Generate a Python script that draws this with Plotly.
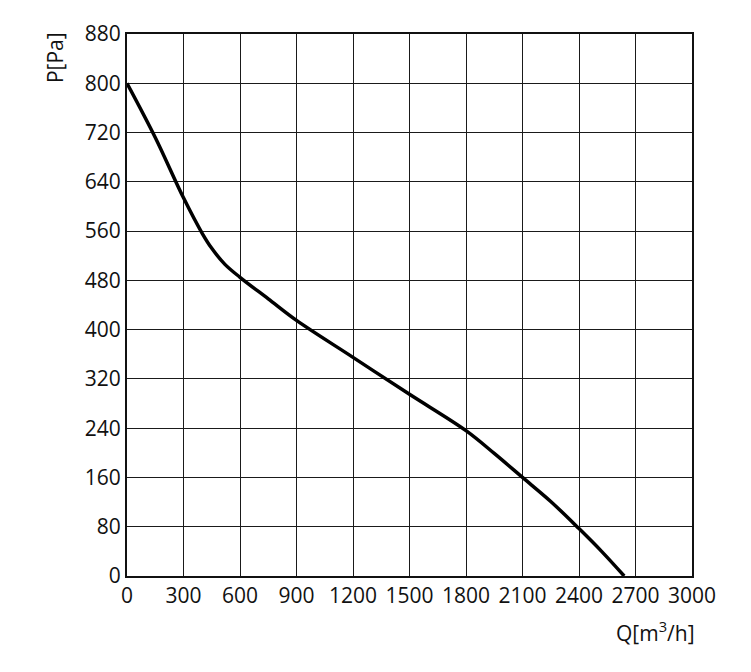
import plotly.graph_objects as go

# fan curve
flow = [0, 150, 300, 400, 450, 520, 600, 750, 900, 1200, 1500, 1800, 1950, 2100, 2250, 2400, 2520, 2640]
pressure = [800, 712, 614, 556, 532, 506, 485, 450, 415, 355, 295, 236, 199, 160, 121, 77, 40, 0]

x_ticks = list(range(0, 3001, 300))
y_ticks = list(range(0, 881, 80))

font = dict(family="Open Sans", size=21, color="#111")

fig = go.Figure()
fig.add_trace(go.Scatter(
    x=flow, y=pressure, mode="lines",
    line=dict(color="black", width=3.5, shape="spline", smoothing=1.0),
    hoverinfo="x+y", showlegend=False,
))

axis_style = dict(
    showgrid=True, gridcolor="#1a1a1a", gridwidth=1.3,
    showline=True, linecolor="#111", linewidth=2, mirror=True,
    zeroline=False, ticks="", tickfont=font,
)
fig.update_xaxes(range=[0, 3000], tickvals=x_ticks, **axis_style)
fig.update_yaxes(range=[0, 880], tickvals=y_ticks, **axis_style)

fig.add_annotation(text="Q[m<sup>3</sup>/h]", xref="paper", yref="paper",
                   x=1.009, y=-0.103, xanchor="right", yanchor="middle",
                   showarrow=False, font=font)
fig.add_annotation(text="P[Pa]", xref="paper", yref="paper",
                   x=-0.127, y=0.956, xanchor="center", yanchor="middle",
                   textangle=-90, showarrow=False, font=font)

fig.update_layout(
    width=743, height=664,
    margin=dict(l=119, r=59, t=26, b=96),
    plot_bgcolor="white", paper_bgcolor="white",
)

fig.write_html("out.html")
